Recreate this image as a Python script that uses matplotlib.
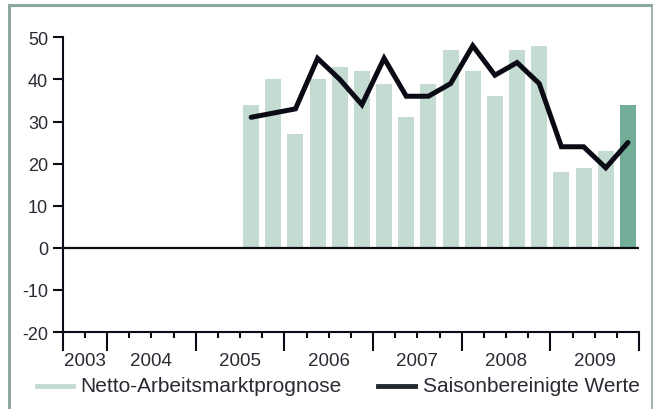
import matplotlib
matplotlib.use("Agg")
import matplotlib.pyplot as plt
from matplotlib.lines import Line2D
import numpy as np

# quarters run from 2003 Q3 (index 0) to 2009 Q4 (index 25)
years = ["2003", "2004", "2005", "2006", "2007", "2008", "2009"]
year_start = [0, 2, 6, 10, 14, 18, 22, 26]

# survey values from 2005 Q3 onwards
first_quarter = 8
prognose = [34, 40, 27, 40, 43, 42, 39, 31, 39, 47, 42, 36, 47, 48, 18, 19, 23, 34]
saison = [31, 32, 33, 45, 40, 34, 45, 36, 36, 39, 48, 41, 44, 39, 24, 24, 19, 25]

light_green = "#c3dbd1"
dark_green = "#72ad98"
line_col = "#0b0b16"
text_col = "#2a2a33"
frame_col = "#8ca99b"

plt.rcParams["font.family"] = ["Liberation Sans", "DejaVu Sans"]
plt.rcParams["axes.unicode_minus"] = False

W, H = 653, 410
fig = plt.figure(figsize=(W / 100, H / 100), dpi=100)

# outer frame (left, top, right)
fig.add_artist(Line2D([9 / W, 9 / W], [0, 1 - 6 / H], color=frame_col, lw=2.2, transform=fig.transFigure))
fig.add_artist(Line2D([9 / W, 651.5 / W], [1 - 6 / H, 1 - 6 / H], color=frame_col, lw=2.2, transform=fig.transFigure))
fig.add_artist(Line2D([651.5 / W, 651.5 / W], [0, 1 - 6 / H], color=frame_col, lw=1.2, transform=fig.transFigure))

left, right = 62.7 / W, 639 / W
bottom, top = 1 - 333 / H, 1 - 38.3 / H
ax = fig.add_axes([left, bottom, right - left, top - bottom])

x = np.arange(len(prognose)) + first_quarter + 0.5
colors = [light_green] * (len(prognose) - 1) + [dark_green]
ax.bar(x, prognose, width=0.72, color=colors, zorder=1)
ax.axhline(0, color=line_col, lw=1.6, zorder=2)
ax.plot(x, saison, color=line_col, lw=3.6, solid_joinstyle="miter", solid_capstyle="round", zorder=3)

ax.set_xlim(0, 26)
ax.set_ylim(-20, 50)
ax.set_yticks(range(-20, 51, 10))
ax.set_xticks(year_start)
ax.set_xticks(range(0, 27), minor=True)
ax.set_xticklabels([])

for s in ["top", "right"]:
    ax.spines[s].set_visible(False)
for s in ["left", "bottom"]:
    ax.spines[s].set_color(line_col)
    ax.spines[s].set_linewidth(1.5)

ax.tick_params(axis="y", direction="out", length=7.5, width=1.5, color=line_col,
               labelsize=13, labelcolor=text_col, pad=3)
ax.tick_params(axis="x", which="major", direction="out", length=13.5, width=1.5, color=line_col)
ax.tick_params(axis="x", which="minor", direction="out", length=4.5, width=1.5, color=line_col)

# year names centred in each year's span
for i, yr in enumerate(years):
    mid = (year_start[i] + year_start[i + 1]) / 2
    fig.text(left + (right - left) * mid / 26, 1 - 362 / H, yr,
             ha="center", va="center", fontsize=13.5, color=text_col)

# legend
ly = 1 - 386.5 / H
fig.add_artist(Line2D([37 / W, 73 / W], [ly, ly], color=light_green, lw=3.5, transform=fig.transFigure))
fig.text(80 / W, ly, "Netto-Arbeitsmarktprognose", ha="left", va="center", fontsize=15, color=text_col)
fig.add_artist(Line2D([378 / W, 415 / W], [ly, ly], color="#222a30", lw=3.5, transform=fig.transFigure))
fig.text(423 / W, ly, "Saisonbereinigte Werte", ha="left", va="center", fontsize=15, color=text_col)

fig.savefig("out.png", dpi=100)
